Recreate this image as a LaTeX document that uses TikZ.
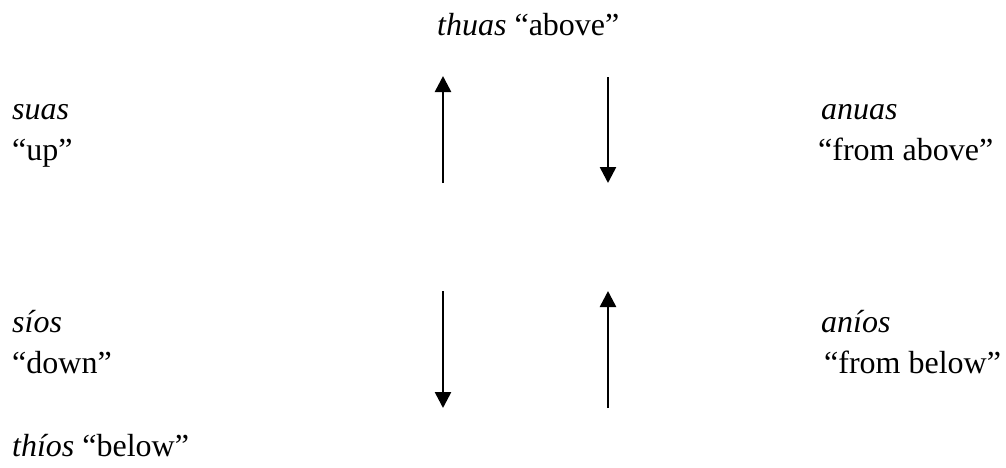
\documentclass[tikz,border=0pt]{standalone}
\usepackage{fontspec}
\setmainfont{Liberation Serif}
\usetikzlibrary{arrows.meta}
\tikzset{
  lbl/.style={inner sep=0pt, anchor=base west, align=left, font=\fontsize{32}{41}\selectfont},
  dirarrow/.style={line width=2.6pt, -{Triangle[width=16pt,length=16pt]}}
}
\begin{document}
\begin{tikzpicture}[x=1pt,y=-1pt]
\useasboundingbox (0,0) rectangle (1006,467);
% labels (base = baseline of the last line)
\node[lbl] (above) at (437,35) {\textit{thuas} “above”};
\node[lbl] (up) at (12,160) {\textit{suas}\\“up”};
\node[lbl] (fromabove) at (818,160) {\hspace*{3pt}\textit{anuas}\\“from above”};
\node[lbl] (down) at (12,373) {\textit{síos}\\“down”};
\node[lbl] (frombelow) at (818,373) {\hspace*{3pt}\textit{aníos}\\\hspace*{6pt}“from below”};
\node[lbl] (below) at (12,456) {\textit{thíos} “below”};
% arrow end points
\coordinate (a1s) at (443,183);
\coordinate (a1e) at (443,76);
\coordinate (a2s) at (608,77);
\coordinate (a2e) at (608,183);
\coordinate (a3s) at (443,291);
\coordinate (a3e) at (443,408);
\coordinate (a4s) at (608,408);
\coordinate (a4e) at (608,291);
% arrows
\draw[dirarrow] (a1s) -- (a1e);
\draw[dirarrow] (a2s) -- (a2e);
\draw[dirarrow] (a3s) -- (a3e);
\draw[dirarrow] (a4s) -- (a4e);
\end{tikzpicture}
\end{document}
